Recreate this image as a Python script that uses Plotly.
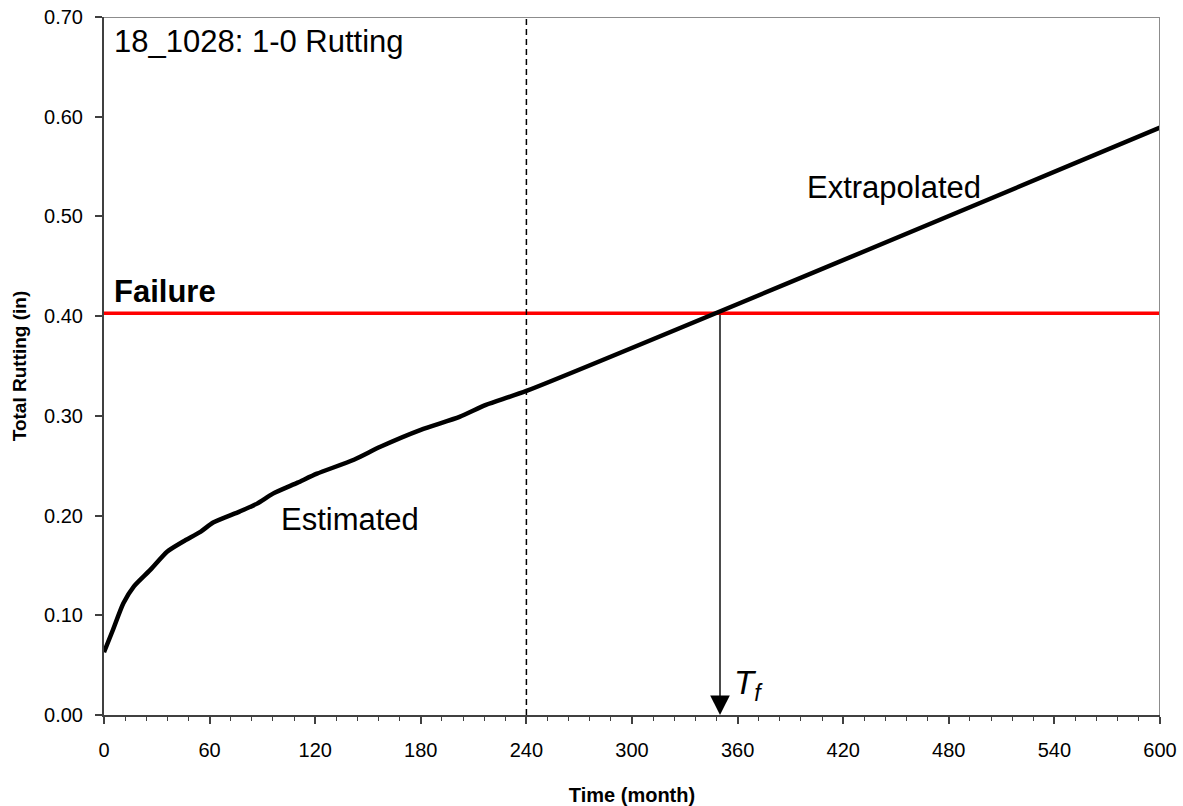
import plotly.graph_objects as go

# ---- data ----
est_months = [0, 5, 11, 17, 26, 36, 45, 55, 62, 77, 87, 96, 110, 121, 142, 157, 180, 202, 217, 240]
est_rut = [0.063, 0.085, 0.112, 0.129, 0.145, 0.164, 0.174, 0.184, 0.193, 0.204,
           0.212, 0.222, 0.233, 0.242, 0.256, 0.269, 0.286, 0.299, 0.311, 0.325]
ext_months = [240, 600]
ext_rut = [0.325, 0.589]
failure_level = 0.403
failure_time = 350
boundary_month = 240
x_ticks = [0, 60, 120, 180, 240, 300, 360, 420, 480, 540, 600]
y_ticks = [0.0, 0.1, 0.2, 0.3, 0.4, 0.5, 0.6, 0.7]

FONT = "Arial, Liberation Sans, sans-serif"

fig = go.Figure()

# failure line
fig.add_trace(go.Scatter(x=[0, 600], y=[failure_level, failure_level], mode="lines",
                         line=dict(color="#FF0000", width=3.5), hoverinfo="skip"))
# dashed boundary
fig.add_trace(go.Scatter(x=[boundary_month, boundary_month], y=[0, 0.7], mode="lines",
                         line=dict(color="black", width=1.5, dash="6px,4px"), hoverinfo="skip"))
# curve
fig.add_trace(go.Scatter(x=est_months + ext_months[1:], y=est_rut + ext_rut[1:], mode="lines",
                         line=dict(color="black", width=4.5, shape="spline", smoothing=0.6)))

# top/right frame in gray
fig.add_shape(type="line", xref="x", yref="y", x0=0, x1=600, y0=0.7, y1=0.7,
              line=dict(color="#8c8c8c", width=2))
fig.add_shape(type="line", xref="x", yref="y", x0=600, x1=600, y0=0, y1=0.7,
              line=dict(color="#8c8c8c", width=2))

# Tf arrow
fig.add_annotation(x=failure_time, y=0, ax=failure_time, ay=failure_level, xref="x", yref="y",
                   axref="x", ayref="y", showarrow=True, arrowhead=2, arrowsize=2.8,
                   arrowwidth=1.4, arrowcolor="black", standoff=0, text="")

ann_font = dict(family=FONT, size=31, color="black")
fig.add_annotation(x=4.5, y=0.675, xref="x", yref="y", text="18_1028: 1-0 Rutting",
                   showarrow=False, xanchor="left", yanchor="middle", font=ann_font)
fig.add_annotation(x=4.5, y=0.425, xref="x", yref="y", text="<b>Failure</b>",
                   showarrow=False, xanchor="left", yanchor="middle", font=ann_font)
fig.add_annotation(x=140, y=0.196, xref="x", yref="y", text="Estimated",
                   showarrow=False, xanchor="center", yanchor="middle", font=ann_font)
fig.add_annotation(x=449, y=0.529, xref="x", yref="y", text="Extrapolated",
                   showarrow=False, xanchor="center", yanchor="middle", font=ann_font)
fig.add_annotation(x=357, y=0.03, xref="x", yref="y", text="<i>T</i><sub><i>f</i></sub>",
                   showarrow=False, xanchor="left", yanchor="middle",
                   font=dict(family=FONT, size=33, color="black"))

fig.update_layout(
    width=1183, height=806,
    margin=dict(l=104, r=23, t=17, b=91),
    paper_bgcolor="white", plot_bgcolor="white",
    showlegend=False,
    font=dict(family=FONT, color="black"),
)
fig.update_xaxes(
    range=[0, 600], tickvals=x_ticks, ticktext=[str(v) for v in x_ticks],
    showgrid=False, zeroline=False, automargin=False,
    showline=True, linecolor="#404040", linewidth=2,
    ticks="outside", ticklen=7, tickwidth=1.5, tickcolor="#404040",
    minor=dict(dtick=12, ticks="outside", ticklen=4, tickwidth=1.2, tickcolor="#404040"),
    tickfont=dict(family=FONT, size=20, color="black"),
    ticklabelstandoff=9,
    title=dict(text="<b>Time (month)</b>", font=dict(family=FONT, size=20, color="black"), standoff=28),
)
fig.update_yaxes(
    range=[0, 0.7], tickvals=y_ticks, ticktext=[f"{v:.2f}" for v in y_ticks],
    showgrid=False, zeroline=False, automargin=False,
    showline=True, linecolor="#404040", linewidth=2,
    ticks="outside", ticklen=7, tickwidth=1.5, tickcolor="#404040",
    tickfont=dict(family=FONT, size=20, color="black"),
    ticklabelstandoff=8,
    title=dict(text="<b>Total Rutting (in)</b>", font=dict(family=FONT, size=19, color="black"), standoff=12),
)

fig.write_html("out.html")
